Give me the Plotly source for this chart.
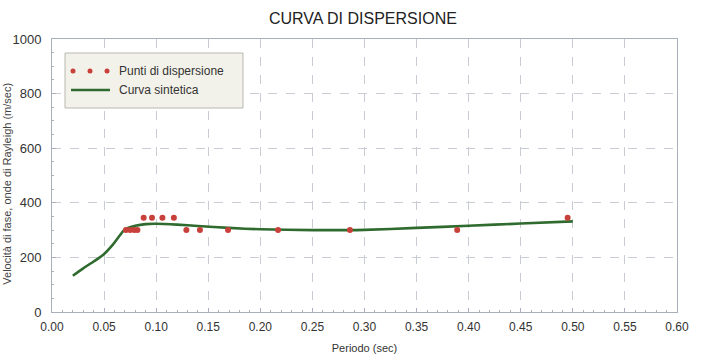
import plotly.graph_objects as go

# Data
punti_periodo = [0.071, 0.075, 0.079, 0.082, 0.088, 0.096, 0.106, 0.117, 0.129, 0.142, 0.169, 0.217, 0.286, 0.389, 0.495]
punti_velocita = [300, 300, 300, 300, 345, 345, 345, 345, 300, 300, 300, 300, 300, 300, 345]

curva_periodo = [0.020, 0.030, 0.040, 0.049, 0.058, 0.065, 0.070, 0.080, 0.090, 0.100, 0.120, 0.140, 0.170, 0.200, 0.250, 0.300, 0.350, 0.400, 0.450, 0.500]
curva_velocita = [133, 160, 185, 209, 245, 280, 303, 316, 322, 323, 320, 315, 308, 303, 300, 301, 308, 316, 324, 332]

x_ticks = [0.00, 0.05, 0.10, 0.15, 0.20, 0.25, 0.30, 0.35, 0.40, 0.45, 0.50, 0.55, 0.60]
y_ticks = [0, 200, 400, 600, 800, 1000]

RED = "#c8403a"
GREEN = "#2f6b2f"
FONT = "Liberation Sans, Arial"

fig = go.Figure()
fig.add_trace(go.Scatter(x=curva_periodo, y=curva_velocita, mode="lines",
                         line=dict(color=GREEN, width=2.6, shape="spline", smoothing=0.6),
                         showlegend=False, name="Curva sintetica"))
fig.add_trace(go.Scatter(x=punti_periodo, y=punti_velocita, mode="markers",
                         marker=dict(color=RED, size=6), showlegend=False,
                         name="Punti di dispersione"))

L, R, T, B = 52, 25, 39, 47
W, H = 702, 359
pw, ph = W - L - R, H - T - B

def px(x):
    return (x - L) / pw

def py(y):
    return (H - B - y) / ph

shapes = [
    dict(type="rect", xref="paper", yref="paper", x0=px(65), x1=px(243), y0=py(108), y1=py(53),
         fillcolor="#f3f2ea", line=dict(color="#b8b8b0", width=1), layer="above"),
    dict(type="line", xref="paper", yref="paper", x0=px(71), x1=px(110), y0=py(90), y1=py(90),
         line=dict(color=GREEN, width=2.6), layer="above"),
]
for cx in (73, 90, 107):
    shapes.append(dict(type="circle", xref="paper", yref="paper",
                       x0=px(cx - 2.5), x1=px(cx + 2.5), y0=py(71 + 2.5), y1=py(71 - 2.5),
                       fillcolor=RED, line=dict(color=RED, width=0), layer="above"))

annotations = [
    dict(text="Punti di dispersione", xref="paper", yref="paper", x=px(117), y=py(71),
         xanchor="left", yanchor="middle", showarrow=False,
         font=dict(size=12, color="#333333", family=FONT)),
    dict(text="Curva sintetica", xref="paper", yref="paper", x=px(117), y=py(90),
         xanchor="left", yanchor="middle", showarrow=False,
         font=dict(size=12, color="#333333", family=FONT)),
    dict(text="Velocità di fase, onde di Rayleigh (m/sec)", xref="paper", yref="paper",
         x=px(7), y=0.47, xanchor="center", yanchor="middle", textangle=-90, showarrow=False,
         font=dict(size=11, color="#444444", family=FONT)),
]

grid = dict(showgrid=True, gridcolor="#c9ccd4", griddash="dash", gridwidth=1)
fig.update_layout(
    width=W, height=H,
    margin=dict(l=L, r=R, t=T, b=B, autoexpand=False),
    paper_bgcolor="white", plot_bgcolor="white",
    title=dict(text="CURVA DI DISPERSIONE", x=0.517, xanchor="center", y=0.95, yanchor="middle",
               font=dict(size=16, color="#222222", family=FONT)),
    font=dict(family=FONT, size=12, color="#333333"),
    shapes=shapes, annotations=annotations,
    xaxis=dict(range=[0, 0.6], tickvals=x_ticks, ticktext=[f"{v:.2f}" for v in x_ticks],
               title=dict(text="Periodo (sec)", standoff=10, font=dict(size=11)),
               automargin=False, ticklabelstandoff=4,
               showline=True, linecolor="#aab0bb", mirror=True, ticks="inside", ticklen=4,
               tickcolor="#aab0bb", zeroline=False,
               minor=dict(dtick=0.01, ticks="inside", ticklen=2, tickcolor="#aab0bb", showgrid=False),
               **grid),
    yaxis=dict(range=[0, 1000], tickvals=y_ticks, automargin=False, ticklabelstandoff=7,
               tickfont=dict(size=13),
               showline=True, linecolor="#aab0bb", mirror=True, ticks="inside", ticklen=4,
               tickcolor="#aab0bb", zeroline=False,
               minor=dict(dtick=50, ticks="inside", ticklen=2, tickcolor="#aab0bb", showgrid=False),
               **grid),
)

fig.write_html("out.html", config={"displayModeBar": False},
               post_script="document.body.style.margin='0';")
